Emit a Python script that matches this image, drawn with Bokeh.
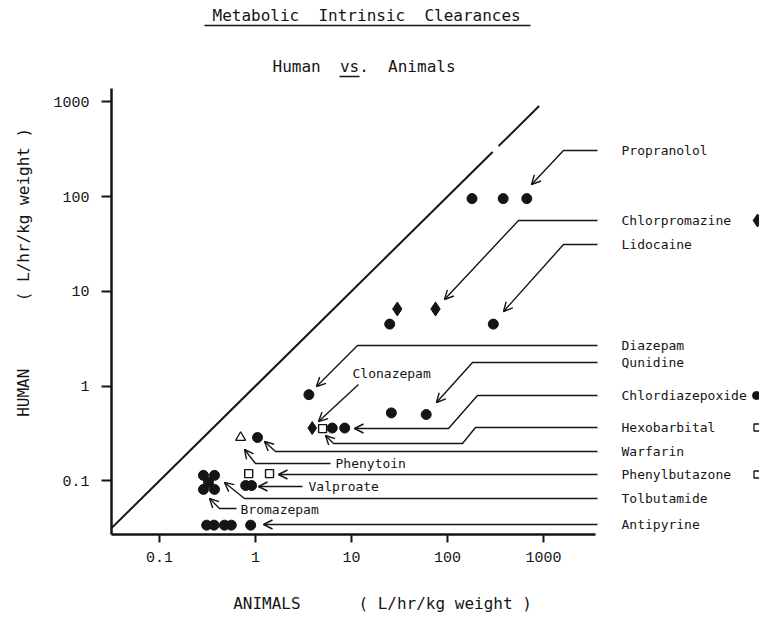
from bokeh.plotting import figure
from bokeh.models import FixedTicker, CustomJSTickFormatter, Arrow, OpenHead, ColumnDataSource
from bokeh.embed import file_html
from bokeh.resources import INLINE
from bokeh.core.properties import value

# ---------------- data (L/hr/kg) ----------------
propranolol_x = [180, 380, 670]
propranolol_y = [95, 95, 95]
chlorpromazine_x = [30, 75]
chlorpromazine_y = [6.5, 6.5]
lidocaine_x = [25, 300]
lidocaine_y = [4.5, 4.5]
diazepam_x = [3.6]
diazepam_y = [0.81]
quinidine_x = [26, 60]
quinidine_y = [0.52, 0.50]
clonazepam_x = [3.9]
clonazepam_y = [0.36]
hexobarbital_x = [5.0]
hexobarbital_y = [0.355]
chlordiazepoxide_x = [6.3, 8.5]
chlordiazepoxide_y = [0.36, 0.36]
warfarin_x = [1.05]
warfarin_y = [0.286]
phenytoin_x = [0.70]
phenytoin_y = [0.286]
phenylbutazone_x = [0.85, 1.4]
phenylbutazone_y = [0.119, 0.119]
valproate_x = [0.79, 0.91]
valproate_y = [0.089, 0.089]
tolbutamide_x = [0.287, 0.374, 0.324]
tolbutamide_y = [0.114, 0.114, 0.096]
bromazepam_x = [0.287, 0.374]
bromazepam_y = [0.081, 0.081]
antipyrine_x = [0.31, 0.37, 0.475, 0.56, 0.89]
antipyrine_y = [0.034, 0.034, 0.034, 0.034, 0.034]

identity_x_pieces = [[0.0316, 295], [340, 900]]   # line of unity (with the gap in the original)

tick_values = [0.1, 1, 10, 100, 1000]
tick_labels = ["0.1", "1", "10", "100", "1000"]

# ---------------- layout helpers (picture pixel -> data) for annotations ----------------
def ax(px):
    return 10 ** ((px - 255) / 96.0)

def ay(py):
    return 10 ** ((385.5 - py) / 94.75)

MONO = "DejaVu Sans Mono"
INK = "#151515"
NB = "\u00a0"

p = figure(width=759, height=620, x_axis_type="log", y_axis_type="log",
           x_range=(ax(111), ax(759)), y_range=(ay(534), ay(0)),
           output_backend="svg", toolbar_location=None,
           min_border_left=111, min_border_right=0, min_border_top=0, min_border_bottom=86)
p.grid.visible = False
p.outline_line_color = None
p.background_fill_color = "white"
p.border_fill_color = "white"

fmt_code = """
for (let i = 0; i < vals.length; i++) {
  if (Math.abs(Math.log10(vals[i]) - Math.log10(tick)) < 1e-6) return labels[i];
}
return "";
"""
for a in (p.xaxis[0], p.yaxis[0]):
    a.ticker = FixedTicker(ticks=tick_values, minor_ticks=[])
    a.formatter = CustomJSTickFormatter(args=dict(vals=tick_values, labels=tick_labels), code=fmt_code)
    a.axis_line_width = 2.5
    a.axis_line_color = INK
    a.major_tick_line_width = 2
    a.major_tick_line_color = INK
    a.major_tick_in = 0
    a.minor_tick_line_color = None
    a.major_label_text_font = "Liberation Mono"
    a.major_label_text_font_size = "15px"
    a.major_label_text_color = INK
    a.axis_label_text_font = MONO
    a.axis_label_text_font_size = "16px"
    a.axis_label_text_font_style = "normal"
    a.axis_label_text_color = INK

p.xaxis.bounds = (ax(111), ax(595))
p.yaxis.bounds = (ay(534), ay(88))
p.xaxis.major_tick_out = 8
p.yaxis.major_tick_out = 10
p.xaxis.major_label_standoff = 9
p.yaxis.major_label_standoff = 12
p.xaxis.axis_label = "ANIMALS" + NB * 6 + "( L/hr/kg weight )" + NB * 11
p.xaxis.axis_label_standoff = 29
p.yaxis.axis_label = "HUMAN" + NB * 7 + "( L/hr/kg weight )" + NB
p.yaxis.axis_label_standoff = 17

# line of unity
for seg in identity_x_pieces:
    p.line(seg, seg, line_color=INK, line_width=2)

# ---------------- data marks ----------------
def dots(xs, ys):
    p.scatter(xs, ys, marker="circle", size=10, fill_color=INK, line_color=INK)

dots(propranolol_x, propranolol_y)
dots(lidocaine_x, lidocaine_y)
dots(diazepam_x, diazepam_y)
dots(quinidine_x, quinidine_y)
dots(chlordiazepoxide_x, chlordiazepoxide_y)
dots(warfarin_x, warfarin_y)
dots(valproate_x, valproate_y)
dots(tolbutamide_x, tolbutamide_y)
dots(bromazepam_x, bromazepam_y)
dots(antipyrine_x, antipyrine_y)
p.scatter(chlorpromazine_x, chlorpromazine_y, marker="diamond", size=14, fill_color=INK, line_color=INK)
p.scatter(clonazepam_x, clonazepam_y, marker="diamond", size=13, fill_color=INK, line_color=INK)
p.scatter(hexobarbital_x, hexobarbital_y, marker="square", size=8, fill_color="white", line_color=INK, line_width=1.4)
p.scatter(phenylbutazone_x, phenylbutazone_y, marker="square", size=8, fill_color="white", line_color=INK, line_width=1.4)
p.scatter(phenytoin_x, phenytoin_y, marker="triangle", size=10, fill_color="white", line_color=INK, line_width=1.3)

# ---------------- right-hand labels ----------------
legend_names = ["Propranolol", "Chlorpromazine", "Lidocaine", "Diazepam", "Qunidine",
                "Chlordiazepoxide", "Hexobarbital", "Warfarin", "Phenylbutazone",
                "Tolbutamide", "Antipyrine"]
legend_rows = [150, 220, 244, 345, 362, 395, 427, 451, 474, 498, 524]
p.text(x=[ax(621)] * len(legend_names), y=[ay(r) for r in legend_rows], text=legend_names,
       text_font=value(MONO), text_font_size="13px", text_baseline="middle", text_color=INK)

# symbol keys, cut by the page edge
p.scatter([ax(757)], [ay(220)], marker="diamond", size=13, fill_color=INK, line_color=INK)
p.scatter([ax(756)], [ay(395)], marker="circle", size=8, fill_color=INK, line_color=INK)
p.scatter([ax(757), ax(757)], [ay(427), ay(474)], marker="square", size=7, fill_color="white", line_color=INK, line_width=1.3)

# in-plot labels
p.text(x=[ax(352), ax(335), ax(308), ax(240)], y=[ay(373), ay(463), ay(486), ay(509)],
       text=["Clonazepam", "Phenytoin", "Valproate", "Bromazepam"],
       text_font=value(MONO), text_font_size="13px", text_baseline="middle", text_color=INK)

# leader lines (picture px) ending in arrow heads
leaders = [
    [(597, 150), (563, 150), (531, 184)],
    [(597, 220), (518, 220), (444, 299)],
    [(597, 244), (563, 244), (503, 311)],
    [(597, 345), (357, 345), (316, 386)],
    [(597, 362), (472, 362), (436, 402)],
    [(597, 395), (477, 395), (448, 428), (354, 428)],
    [(597, 427), (475, 427), (462, 443), (333, 443), (325, 435)],
    [(597, 451), (275, 451), (264, 441)],
    [(597, 474), (278, 474)],
    [(302, 486), (258, 486)],
    [(330, 463), (255, 463), (244, 449)],
    [(597, 498), (244, 498), (224, 482)],
    [(236, 508), (219, 508), (209, 498)],
    [(597, 524), (263, 524)],
    [(358, 384), (318, 421)],
]
p.multi_line(xs=[[ax(a) for a, b in L] for L in leaders], ys=[[ay(b) for a, b in L] for L in leaders],
             line_color=INK, line_width=1.4)
arr = ColumnDataSource(dict(
    x_start=[ax(L[-2][0]) for L in leaders], y_start=[ay(L[-2][1]) for L in leaders],
    x_end=[ax(L[-1][0]) for L in leaders], y_end=[ay(L[-1][1]) for L in leaders]))
p.add_layout(Arrow(end=OpenHead(size=9, line_width=1.4, line_color=INK), line_alpha=0,
                   x_start="x_start", y_start="y_start", x_end="x_end", y_end="y_end", source=arr))

# titles
p.text(x=[ax(212), ax(272)], y=[ay(15), ay(66)],
       text=["Metabolic" + NB * 2 + "Intrinsic" + NB * 2 + "Clearances",
             "Human" + NB * 2 + "vs." + NB * 2 + "Animals"],
       text_font=value(MONO), text_font_size="16px", text_baseline="middle", text_color=INK)
p.line([ax(204), ax(530)], [ay(25), ay(25)], line_color=INK, line_width=1.5)
p.line([ax(339), ax(359)], [ay(76), ay(76)], line_color=INK, line_width=1.3)

open("out.html", "w").write(file_html(p, INLINE))
